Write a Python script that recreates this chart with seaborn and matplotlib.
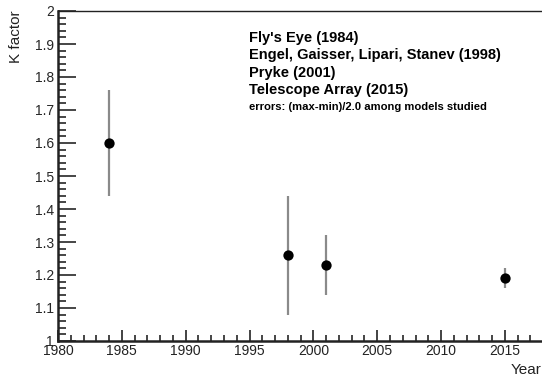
import matplotlib
matplotlib.use("Agg")
import matplotlib.pyplot as plt
import seaborn as sns
import pandas as pd
from matplotlib.ticker import MultipleLocator

# Measurements of the K factor
years = [1984, 1998, 2001, 2015]
k_factor = [1.60, 1.26, 1.23, 1.19]
k_error = [0.16, 0.18, 0.09, 0.03]
legend_lines = [
    "Fly's Eye (1984)",
    "Engel, Gaisser, Lipari, Stanev (1998)",
    "Pryke (2001)",
    "Telescope Array (2015)",
]
note = "errors: (max-min)/2.0 among models studied"

sns.set_theme(style="ticks")
plt.rcParams["font.family"] = ["Liberation Sans", "DejaVu Sans"]

df = pd.DataFrame({"year": years, "k": k_factor, "err": k_error})

fig = plt.figure(figsize=(5.42, 3.81), dpi=100)
ax = fig.add_axes([58 / 542, 1 - 341 / 381, 1 - 58 / 542, (341 - 11) / 381])

ax.vlines(df["year"], df["k"] - df["err"], df["k"] + df["err"],
          color="#8a8a8a", linewidth=1.6, zorder=2)
sns.scatterplot(data=df, x="year", y="k", ax=ax, color="black", s=55,
                edgecolor="black", linewidth=0, zorder=3, legend=False)

ax.xaxis.set_major_locator(MultipleLocator(5))
ax.xaxis.set_minor_locator(MultipleLocator(1))
ax.yaxis.set_major_locator(MultipleLocator(0.1))
ax.yaxis.set_minor_locator(MultipleLocator(0.02))
ax.set_xticks(range(1980, 2020, 5))
ax.set_xticklabels([str(y) for y in range(1980, 2020, 5)])
ax.set_yticks([1.0 + 0.1 * i for i in range(11)])
ax.set_yticklabels(["1", "1.1", "1.2", "1.3", "1.4", "1.5", "1.6", "1.7", "1.8", "1.9", "2"])
ax.set_xlim(1980, 1980 + (542 - 58) / 12.77)
ax.set_ylim(1.0, 2.0)

ax.tick_params(axis="x", which="major", direction="in", length=8, width=1.2,
               labelsize=10, pad=2, colors="#222222")
ax.tick_params(axis="x", which="minor", direction="in", length=4, width=1.2)
ax.tick_params(axis="y", which="major", direction="in", length=13, width=1.2,
               labelsize=10, pad=3)
ax.tick_params(axis="y", which="minor", direction="in", length=6, width=1.2)
ax.tick_params(top=False, right=False)

for side in ["left", "bottom"]:
    ax.spines[side].set_linewidth(1.8)
    ax.spines[side].set_color("#222222")
ax.spines["top"].set_linewidth(1.0)
ax.spines["top"].set_color("#222222")
ax.spines["right"].set_visible(False)

ax.set_xlabel("")
ax.set_ylabel("")
fig.text(16 / 542, 1 - 10 / 381, "K factor", rotation=90, ha="center", va="top",
         fontsize=11, color="#222222")
fig.text(542 / 542, 1 - 377 / 381, "Year", ha="right", va="bottom",
         fontsize=11, color="#222222")

y0 = 38
for i, line in enumerate(legend_lines):
    fig.text(249 / 542, 1 - (y0 + 17.3 * i) / 381, line, ha="left", va="center",
             fontsize=10.5, fontweight="bold", color="black")
fig.text(249 / 542, 1 - 107 / 381, note, ha="left", va="center",
         fontsize=8.1, fontweight="bold", color="black")

fig.savefig("out.png", dpi=100)
